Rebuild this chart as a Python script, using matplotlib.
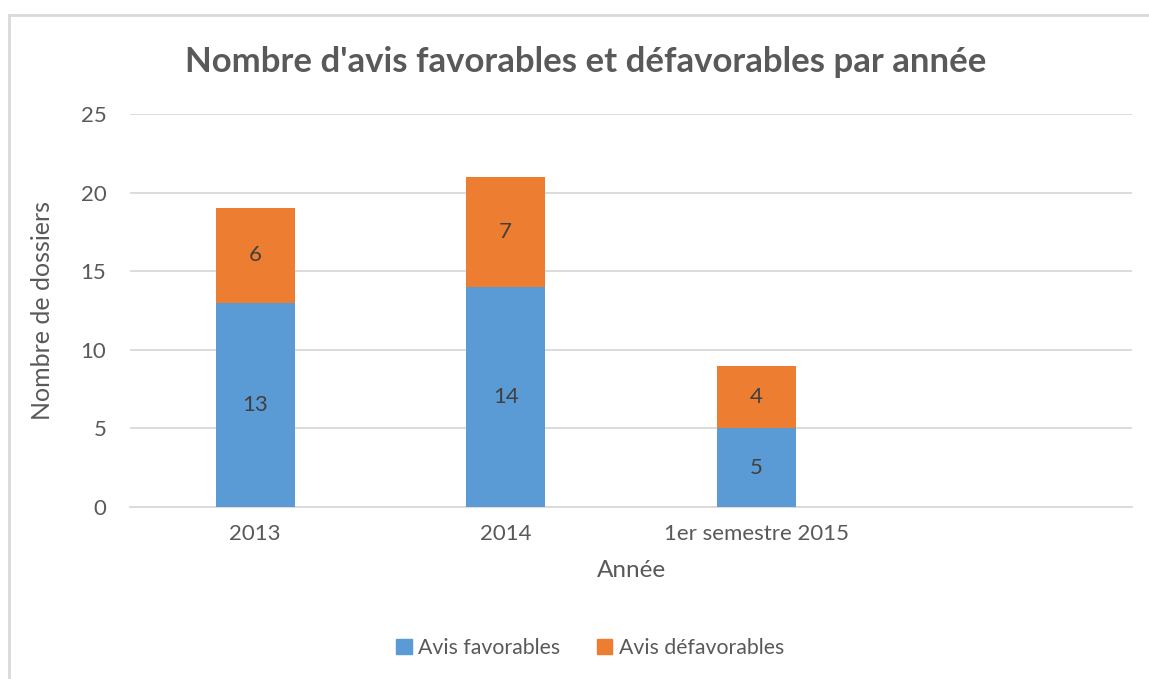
import matplotlib
matplotlib.use("Agg")
import matplotlib.pyplot as plt
from matplotlib.patches import Rectangle, Patch

categories = ["2013", "2014", "1er semestre 2015", ""]
favorables = [13, 14, 5, 0]
defavorables = [6, 7, 4, 0]
fav_labels = ["13", "14", "5"]
defav_labels = ["6", "7", "4"]

plt.rcParams['font.family'] = ['Lato', 'DejaVu Sans']
TXT = '#595959'
BLUE = '#5B9BD5'
ORANGE = '#ED7D31'
GRID = '#D9D9D9'

fig = plt.figure(figsize=(11.49, 6.79), dpi=100)
ax = fig.add_axes([130/1149, 1-507/679, (1132-130)/1149, (507-114)/679])

x = list(range(len(categories)))
n = len(fav_labels)
w = 0.316
b1 = ax.bar(x[:n], favorables[:n], width=w, color=BLUE, zorder=3)
b2 = ax.bar(x[:n], defavorables[:n], width=w, bottom=favorables[:n], color=ORANGE, zorder=3)
ax.bar_label(b1, labels=fav_labels, label_type='center', color='#404040', fontsize=16)
ax.bar_label(b2, labels=defav_labels, label_type='center', color='#404040', fontsize=16)

ax.set_xlim(-0.5, len(categories) - 0.5)
ax.set_ylim(0, 25)
ax.set_yticks([0, 5, 10, 15, 20, 25])
ax.set_xticks(x)
ax.set_xticklabels(categories)
ax.tick_params(axis='both', length=0, colors=TXT, labelsize=16)
ax.tick_params(axis='y', pad=17)
ax.tick_params(axis='x', pad=12)
ax.grid(axis='y', color=GRID, linewidth=1.3, zorder=0)
for s in ['top', 'right', 'left']:
    ax.spines[s].set_visible(False)
ax.spines['bottom'].set_color(GRID)
ax.spines['bottom'].set_linewidth(1.3)

ax.set_ylabel("Nombre de dossiers", color=TXT, fontsize=18, labelpad=19)
ax.set_xlabel("Année", color=TXT, fontsize=17.5, labelpad=12)

fig.text(586/1149, 1-62/679, "Nombre d'avis favorables et défavorables par année",
         ha='center', va='center', fontsize=25, fontweight='bold', color=TXT)

handles = [Patch(color=BLUE, label="Avis favorables"), Patch(color=ORANGE, label="Avis défavorables")]
leg = fig.legend(handles=handles, loc='center', bbox_to_anchor=(590/1149, 1-648/679), ncol=2,
                 frameon=False, fontsize=15.3, handlelength=0.75, handleheight=0.75,
                 handletextpad=0.3, columnspacing=1.7)
for t in leg.get_texts():
    t.set_color(TXT)

border = Rectangle((8.5/1149, -0.05), 1.1, 1 - 14.5/679 + 0.05, transform=fig.transFigure,
                   fill=False, edgecolor=GRID, linewidth=2, clip_on=False)
fig.add_artist(border)

fig.savefig("out.png", dpi=100)
